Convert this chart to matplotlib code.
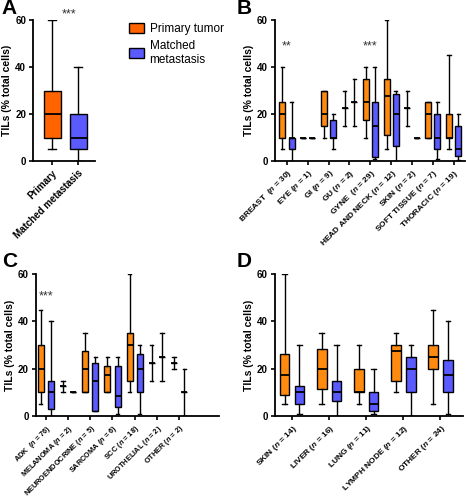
import matplotlib
matplotlib.use('Agg')
import matplotlib.pyplot as plt
from matplotlib.patches import Patch

plt.rcParams['font.family'] = ['Liberation Sans', 'DejaVu Sans']
plt.rcParams['mathtext.fontset'] = 'custom'
plt.rcParams['mathtext.it'] = 'Liberation Sans:bold:italic'
plt.rcParams['mathtext.rm'] = 'Liberation Sans:bold'

# Each box: [min, q1, median, q3, max]
A_LABELS = ['Primary', 'Matched metastasis']
A_PRIMARY = [5, 10, 20, 30, 60]
A_MATCHED = [0, 5, 10, 20, 40]

B_LABELS = ['BREAST  ($n$ = 30)', 'EYE ($n$ = 1)', 'GI ($n$ = 9)', 'GU ($n$ = 2)',
            'GYNE  ($n$ = 29)', 'HEAD AND NECK ($n$ = 12)', 'SKIN ($n$ = 2)',
            'SOFT TISSUE ($n$ = 7)', 'THORACIC ($n$ = 19)']
B_PRIMARY = [[5, 10, 20, 25, 40], [10, 10, 10, 10, 10], [10, 15, 20, 30, 30],
             [15, 22.5, 22.5, 22.5, 30], [10, 17.5, 25, 35, 40], [5, 11, 27.5, 35, 60],
             [15, 22.5, 22.5, 22.5, 30], [10, 10, 20, 25, 25], [5, 10, 10, 20, 45]]
B_MATCHED = [[0, 5, 10, 10, 25], [10, 10, 10, 10, 10], [5, 10, 10, 17.5, 20],
             [15, 25, 25, 25, 35], [1, 1.5, 15, 25, 40], [0, 6.5, 20, 28.5, 30],
             [10, 10, 10, 10, 10], [1, 5, 10, 20, 25], [0.5, 2, 5, 15, 20]]
B_SIG = {0: '**', 4: '***'}

C_LABELS = ['ADK  ($n$ = 76)', 'MELANOMA ($n$ = 2)', 'NEUROENDOCRINE ($n$ = 5)',
            'SARCOMA ($n$ = 6)', 'SCC ($n$ = 18)', 'UROTHELIAL ($n$ = 2)', 'OTHER ($n$ = 2)']
C_PRIMARY = [[5, 10, 20, 30, 45], [10, 12.5, 12.5, 12.5, 15], [10, 10, 20, 27.5, 35],
             [10, 10, 17.5, 21, 25], [10, 15, 30, 35, 60], [15, 22.5, 22.5, 22.5, 30],
             [20, 22.5, 22.5, 22.5, 25]]
C_MATCHED = [[0, 3, 10, 15, 40], [10, 10, 10, 10, 10], [2, 2, 15, 22.5, 25],
             [1, 4, 8.5, 21, 25], [1, 10, 20, 26, 30], [15, 25, 25, 25, 35],
             [0, 10, 10, 10, 20]]
C_SIG = {0: '***'}

D_LABELS = ['SKIN ($n$ = 14)', 'LIVER ($n$ = 16)', 'LUNG ($n$ = 11)',
            'LYMPH NODE ($n$ = 12)', 'OTHER ($n$ = 24)']
D_PRIMARY = [[5, 9, 17.5, 26, 60], [5, 11.5, 20, 28.5, 35], [5, 10, 10, 20, 30],
             [10, 15, 27.5, 30, 35], [5, 20, 25, 30, 45]]
D_MATCHED = [[1, 5, 10, 12.5, 30], [0, 6.5, 10, 15, 30], [1, 2, 5, 10, 20],
             [0, 10, 20, 25, 30], [1, 10, 17.5, 23.5, 40]]

ORANGE_A = '#FF6400'
ORANGE = '#FF8A10'
BLUE = '#5A5AFF'


def to_stats(vals):
    lo, q1, med, q3, hi = vals
    return {'whislo': lo, 'q1': q1, 'med': med, 'q3': q3, 'whishi': hi, 'fliers': []}


def draw_boxes(ax, data, positions, color, width, capwidth):
    ax.bxp([to_stats(v) for v in data], positions=positions, widths=width,
           capwidths=capwidth, patch_artist=True, showfliers=False, manage_ticks=False,
           boxprops=dict(facecolor=color, edgecolor='black', linewidth=1.0),
           medianprops=dict(color='black', linewidth=1.3),
           whiskerprops=dict(color='black', linewidth=1.0),
           capprops=dict(color='black', linewidth=1.0))


def style_axis(ax, labels, xlim, fs):
    ax.set_xticks(range(len(labels)))
    ax.set_xticklabels(labels, rotation=45, ha='right', rotation_mode='anchor',
                       fontsize=fs, fontweight='bold')
    ax.set_xlim(*xlim)
    ax.set_ylim(0, 60)
    ax.set_yticks([0, 20, 40, 60])
    ax.tick_params(axis='y', labelsize=7, width=1.2, length=3, pad=2)
    ax.tick_params(axis='x', width=1.2, length=3, pad=2)
    for lab in ax.get_yticklabels():
        lab.set_fontweight('bold')
    for side in ['top', 'right']:
        ax.spines[side].set_visible(False)
    for side in ['left', 'bottom']:
        ax.spines[side].set_linewidth(1.3)
    ax.set_ylabel('TILs (% total cells)', fontsize=7.5, fontweight='bold', labelpad=2)


fig = plt.figure(figsize=(4.66, 5.0), dpi=100)

# Panel A
axA = fig.add_axes([0.071, 0.678, 0.133, 0.282])
draw_boxes(axA, [A_PRIMARY], [0], ORANGE_A, 0.65, 0.3)
draw_boxes(axA, [A_MATCHED], [1], BLUE, 0.65, 0.3)
style_axis(axA, A_LABELS, (-0.73, 1.65), 7)
axA.text(0.65, 62.5, '***', ha='center', va='center', fontsize=9, color='#333333',
         clip_on=False)

# Panel B
axB = fig.add_axes([0.590, 0.678, 0.408, 0.282])
xb = range(len(B_LABELS))
draw_boxes(axB, B_PRIMARY, [x - 0.22 for x in xb], ORANGE, 0.29, 0.15)
draw_boxes(axB, B_MATCHED, [x + 0.22 for x in xb], BLUE, 0.29, 0.15)
style_axis(axB, B_LABELS, (-0.58, 8.55), 6)
for i, s in B_SIG.items():
    axB.text(i, 48.6, s, ha='center', va='center', fontsize=9, color='#333333')

# Panel C
axC = fig.add_axes([0.077, 0.168, 0.393, 0.284])
xc = range(len(C_LABELS))
draw_boxes(axC, C_PRIMARY, [x - 0.23 for x in xc], ORANGE, 0.27, 0.15)
draw_boxes(axC, C_MATCHED, [x + 0.23 for x in xc], BLUE, 0.27, 0.15)
style_axis(axC, C_LABELS, (-0.45, 7.8), 5.3)
for i, s in C_SIG.items():
    axC.text(i, 50.4, s, ha='center', va='center', fontsize=9, color='#333333')

# Panel D
axD = fig.add_axes([0.590, 0.168, 0.403, 0.284])
xd = range(len(D_LABELS))
draw_boxes(axD, D_PRIMARY, [x - 0.2 for x in xd], ORANGE, 0.26, 0.12)
draw_boxes(axD, D_MATCHED, [x + 0.2 for x in xd], BLUE, 0.26, 0.12)
style_axis(axD, D_LABELS, (-0.46, 4.6), 6)

# panel letters
for x, y, letter in [(0.004, 0.982, 'A'), (0.508, 0.982, 'B'),
                     (0.004, 0.477, 'C'), (0.508, 0.477, 'D')]:
    fig.text(x, y, letter, fontsize=15, fontweight='bold', va='center')

handles = [Patch(facecolor=ORANGE_A, edgecolor='black', label='Primary tumor'),
           Patch(facecolor=BLUE, edgecolor='black', label='Matched\nmetastasis')]
fig.legend(handles=handles, loc='upper left', bbox_to_anchor=(0.255, 0.975),
           frameon=False, fontsize=8.5, handlelength=1.2, handleheight=0.9,
           handletextpad=0.5, labelspacing=0.4)

fig.savefig('out.png', dpi=100)
